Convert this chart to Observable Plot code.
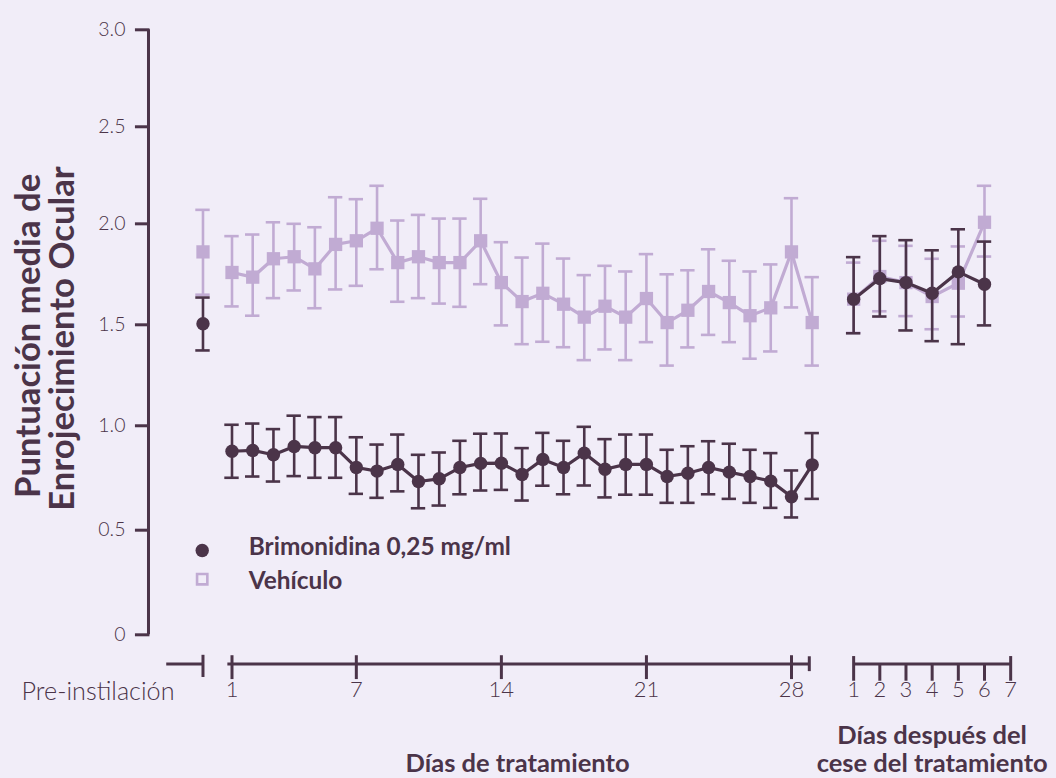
<!DOCTYPE html>
<html><head><meta charset="utf-8">
<script src="https://cdn.jsdelivr.net/npm/d3@7"></script>
<script src="https://cdn.jsdelivr.net/npm/@observablehq/plot@0.6"></script>
<style>
html,body{margin:0;padding:0;background:#f1edf8;}
#chart{width:1056px;height:778px;position:relative;}
#err{position:absolute;left:0;top:0;font-size:13px;color:red;margin:0;}
</style></head><body><div id="chart"></div><pre id="err"></pre>
<script>
// ---------- data ----------
const treatmentDays = [1,2,3,4,5,6,7,8,9,10,11,12,13,14,15,16,17,18,19,20,21,22,23,24,25,26,27,28,29];
const postDays = [1,2,3,4,5,6];
const treatmentTicks = [1,7,14,21,28];
const postTicks = [1,2,3,4,5,6,7];
const yTicks = [0,0.5,1,1.5,2,2.5,3];
const yTickLabels = ["0","0.5","1.0","1.5","2.0","2.5","3.0"];

const brimPre = [1.505, 1.373, 1.635];   // mean, lower, upper
const vehPre  = [1.861, 1.649, 2.072];

const brimMean = [0.878,0.882,0.861,0.901,0.895,0.895,0.800,0.783,0.815,0.733,0.746,0.800,0.820,0.821,0.767,0.839,0.800,0.869,0.792,0.815,0.815,0.757,0.773,0.800,0.778,0.757,0.735,0.660,0.813];
const brimHi   = [1.005,1.011,0.984,1.050,1.043,1.043,0.945,0.910,0.958,0.861,0.872,0.928,0.962,0.963,0.893,0.966,0.928,0.995,0.936,0.958,0.958,0.885,0.902,0.926,0.914,0.885,0.869,0.786,0.965];
const brimLo   = [0.751,0.757,0.733,0.759,0.751,0.751,0.674,0.655,0.686,0.605,0.618,0.672,0.690,0.693,0.642,0.713,0.672,0.714,0.657,0.670,0.670,0.631,0.631,0.672,0.650,0.631,0.607,0.561,0.650];

const vehMean = [1.759,1.736,1.827,1.837,1.777,1.898,1.916,1.978,1.808,1.837,1.808,1.808,1.916,1.709,1.615,1.656,1.602,1.538,1.592,1.538,1.630,1.511,1.572,1.665,1.610,1.545,1.584,1.861,1.511];
const vehHi   = [1.939,1.947,2.008,2.000,1.983,2.137,2.127,2.196,2.017,2.046,2.027,2.027,2.129,1.909,1.833,1.902,1.828,1.746,1.792,1.764,1.850,1.750,1.770,1.874,1.817,1.764,1.799,2.132,1.736];
const vehLo   = [1.591,1.545,1.632,1.670,1.582,1.675,1.693,1.775,1.614,1.632,1.605,1.589,1.701,1.497,1.404,1.416,1.389,1.325,1.378,1.325,1.414,1.298,1.388,1.450,1.414,1.332,1.368,1.586,1.298];

const brimPostMean = [1.627,1.729,1.709,1.656,1.762,1.701];
const brimPostHi   = [1.835,1.939,1.919,1.869,1.973,1.912];
const brimPostLo   = [1.458,1.541,1.472,1.419,1.404,1.497];
const vehPostMean  = [1.627,1.739,1.709,1.640,1.706,2.008];
const vehPostHi    = [1.808,1.916,1.891,1.827,1.888,2.196];
const vehPostLo    = [1.460,1.567,1.543,1.478,1.541,1.838];

const yTitle = ["Puntuación media de", "Enrojecimiento Ocular"];
const legendLabels = ["Brimonidina 0,25 mg/ml", "Vehículo"];
const preLabel = "Pre-instilación";
const xTitleTreat = "Días de tratamiento";
const xTitlePost = ["Días después del", "cese del tratamiento"];

try {
// ---------- layout constants (x in treatment-day units) ----------
const PRE_POS = -0.4;
const POST_START = 31, POST_STEP = 1.263;
const postPos = p => POST_START + (p - 1) * POST_STEP;
const AXIS_X = -3.03;
const AXIS_Y = -0.139;

// the source's y axis is slightly non-uniform: calibrate tick spacing
const yTickFrac = [0, 0.1729, 0.3455, 0.5124, 0.6793, 0.8397, 1];
const yWarp = d3.scaleLinear().domain(yTicks).range(yTickFrac.map(f => 3 * f));

const dark = "#4b3449", light = "#c1abd3", bg = "#f1edf8";
const FONT = "Lato, 'Open Sans', sans-serif";

// fit a font size so that a text spans a given width
const ctx = document.createElement("canvas").getContext("2d");
function fit(text, weight, width) {
  ctx.font = `${weight} 100px ${FONT}`;
  return Math.round(width / ctx.measureText(text).width * 1000) / 10;
}
const yTitleSize = fit(yTitle[0], 700, 324);
const legendSize = fit(legendLabels[0], 700, 262);
const xTitleSize = Math.min(25.5, fit(xTitlePost[1], 700, 241));
const preSize = fit(preLabel, 300, 153);

function rows(series, pre, mean, lo, hi, pmean, plo, phi) {
  const out = [{series, seg: "pre", pos: PRE_POS, mean: pre[0], lo: pre[1], hi: pre[2]}];
  treatmentDays.forEach((d, i) => out.push({series, seg: "treat", pos: d, mean: mean[i], lo: lo[i], hi: hi[i]}));
  postDays.forEach((d, i) => out.push({series, seg: "post", pos: postPos(d), mean: pmean[i], lo: plo[i], hi: phi[i]}));
  return out;
}
const veh = rows("veh", vehPre, vehMean, vehLo, vehHi, vehPostMean, vehPostLo, vehPostHi);
const brim = rows("brim", brimPre, brimMean, brimLo, brimHi, brimPostMean, brimPostLo, brimPostHi);

function seriesMarks(data, color, symbol, r) {
  return [
    Plot.ruleX(data, {x: "pos", y1: "lo", y2: "hi", stroke: color, strokeWidth: 2.6}),
    Plot.ruleY(data, {x1: "pos", x2: "pos", y: "hi", stroke: color, strokeWidth: 2.6, insetLeft: -7.2, insetRight: -7.2}),
    Plot.ruleY(data, {x1: "pos", x2: "pos", y: "lo", stroke: color, strokeWidth: 2.6, insetLeft: -7.2, insetRight: -7.2}),
    Plot.line(data.filter(d => d.seg !== "pre"), {x: "pos", y: "mean", z: "seg", stroke: color, strokeWidth: 3.2}),
    Plot.dot(data, {x: "pos", y: "mean", symbol, r, fill: color, stroke: "none"})
  ];
}

const textStyle = {fill: dark, fontFamily: FONT};

const chart = Plot.plot({
  width: 1056,
  height: 778,
  marginLeft: 148, marginRight: 20, marginTop: 29.3, marginBottom: 143.7,
  style: {background: bg, fontFamily: FONT, overflow: "visible"},
  x: {domain: [1, 29], range: [231.5, 811.7], axis: null},
  y: {domain: [0, 3], range: [634.3, 29.3], transform: v => yWarp(v), axis: null},
  marks: [
    // y axis
    Plot.ruleX([AXIS_X], {x: d => d, y1: 0, y2: 3, stroke: dark, strokeWidth: 3}),
    Plot.ruleY(yTicks, {y: d => d, x1: AXIS_X - 0.63, x2: AXIS_X + 0.07, stroke: dark, strokeWidth: 3}),
    Plot.text(yTicks, {y: d => d, x: AXIS_X, text: (d, i) => yTickLabels[i], textAnchor: "end", dx: -23, fontSize: 19.5, fontWeight: 300, ...textStyle}),
    Plot.text([yTitle[0]], {x: () => -8.80, y: () => 1.445, text: d => d, rotate: -90, lineAnchor: "middle", fontSize: yTitleSize, fontWeight: 700, ...textStyle}),
    Plot.text([yTitle[1]], {x: () => -7.18, y: () => 1.432, text: d => d, rotate: -90, lineAnchor: "middle", fontSize: yTitleSize, fontWeight: 700, ...textStyle}),

    // x axis segments
    Plot.ruleY([{a: -2.15, b: PRE_POS}, {a: 0.8, b: 28.86}, {a: postPos(1), b: postPos(7)}],
      {y: () => AXIS_Y, x1: "a", x2: "b", stroke: dark, strokeWidth: 3}),
    Plot.ruleX([PRE_POS], {x: d => d, y1: -0.098, y2: -0.204, stroke: dark, strokeWidth: 3}),
    Plot.ruleX([28.86], {x: d => d, y1: -0.105, y2: -0.176, stroke: dark, strokeWidth: 3}),
    Plot.ruleX(treatmentTicks, {x: d => d, y1: -0.100, y2: -0.214, stroke: dark, strokeWidth: 3}),
    Plot.ruleX([postTicks[0], postTicks[postTicks.length - 1]], {x: d => postPos(d), y1: -0.104, y2: -0.222, stroke: dark, strokeWidth: 3}),
    Plot.ruleX(postTicks.slice(1, -1), {x: d => postPos(d), y1: AXIS_Y, y2: -0.222, stroke: dark, strokeWidth: 3}),
    Plot.text(treatmentTicks, {x: d => d, y: -0.262, text: d => String(d), fontSize: 22, fontWeight: 300, lineAnchor: "middle", ...textStyle}),
    Plot.text(postTicks, {x: d => postPos(d), y: -0.262, text: d => String(d), fontSize: 22, fontWeight: 300, lineAnchor: "middle", ...textStyle}),
    Plot.text([preLabel], {x: () => -1.775, y: () => -0.271, text: d => d, textAnchor: "end", fontSize: preSize, fontWeight: 300, lineAnchor: "middle", ...textStyle}),
    Plot.text([xTitleTreat], {x: () => 14.78, y: () => -0.618, text: d => d, fontSize: xTitleSize, fontWeight: 700, lineAnchor: "middle", ...textStyle}),
    Plot.text([xTitlePost[0]], {x: () => postPos(4.0), y: () => -0.483, text: d => d, fontSize: xTitleSize, fontWeight: 700, lineAnchor: "middle", ...textStyle}),
    Plot.text([xTitlePost[1]], {x: () => postPos(4.0), y: () => -0.618, text: d => d, fontSize: xTitleSize, fontWeight: 700, lineAnchor: "middle", ...textStyle}),

    // series
    ...seriesMarks(veh, light, "square", 7.5),
    ...seriesMarks(brim, dark, "circle", 6.7),

    // legend
    Plot.dot([0], {x: () => -0.438, y: () => 0.403, r: 6.7, fill: dark, stroke: "none"}),
    Plot.dot([0], {x: () => -0.438, y: () => 0.2658, r: 5.8, symbol: "square", fill: "none", stroke: light, strokeWidth: 2.6}),
    Plot.text([legendLabels[0]], {x: () => 1.81, y: () => 0.4187, text: d => d, textAnchor: "start", lineAnchor: "middle", fontSize: legendSize, fontWeight: 700, ...textStyle}),
    Plot.text([legendLabels[1]], {x: () => 1.81, y: () => 0.2572, text: d => d, textAnchor: "start", lineAnchor: "middle", fontSize: legendSize, fontWeight: 700, ...textStyle})
  ]
});
document.getElementById("chart").appendChild(chart);
} catch (e) { document.getElementById("err").textContent = "ERR " + e.message + "\n" + e.stack; }
</script>
</body></html>
